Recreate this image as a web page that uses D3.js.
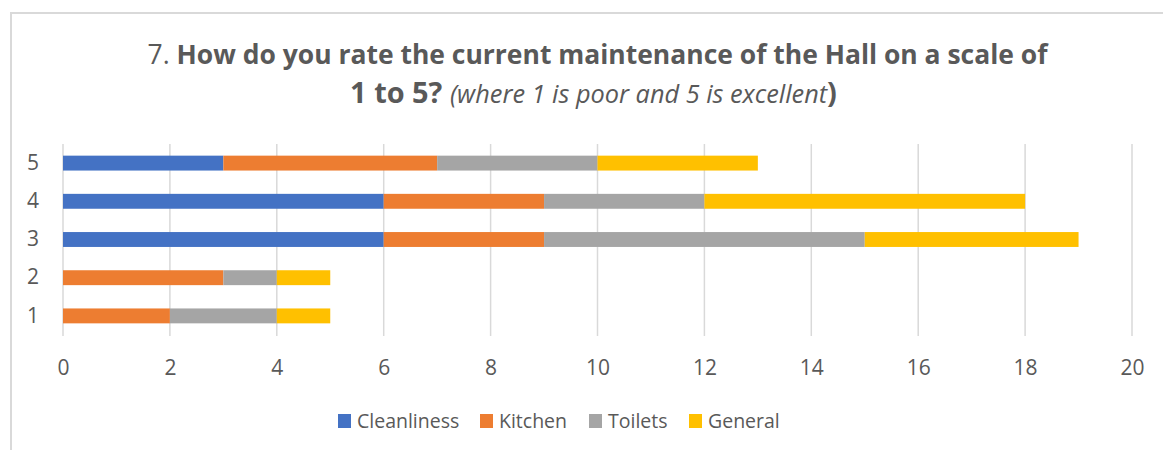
<!DOCTYPE html>
<html>
<head>
<meta charset="utf-8">
<script src="https://cdn.jsdelivr.net/npm/d3@7"></script>
<style>
  html, body { margin: 0; padding: 0; background: #fff; }
  svg { display: block; }
  text { font-family: "Open Sans", "Noto Sans", sans-serif; fill: #595959; }
</style>
</head>
<body>
<svg id="chart" width="1163" height="450"></svg>
<script>
const categories = ["1", "2", "3", "4", "5"];
const seriesNames = ["Cleanliness", "Kitchen", "Toilets", "General"];
const cleanliness = [0, 0, 6, 6, 3];
const kitchen     = [2, 3, 3, 3, 4];
const toilets     = [2, 1, 6, 3, 3];
const general     = [1, 1, 4, 6, 3];
const xTicks = [0, 2, 4, 6, 8, 10, 12, 14, 16, 18, 20];
const colors = ["#4472C4", "#ED7D31", "#A5A5A5", "#FFC000"];

const svg = d3.select("#chart");

// chart border
svg.append("path")
  .attr("d", "M11,460 L11,13 L1175,13")
  .attr("fill", "none").attr("stroke", "#D9D9D9").attr("stroke-width", 2);

const x = d3.scaleLinear().domain([0, 20]).range([63, 1132]);
const y = d3.scaleBand().domain(categories.slice().reverse()).range([144, 335]).paddingInner(0.61).paddingOuter(0.305);

// gridlines
svg.append("g").selectAll("line").data(xTicks).join("line")
  .attr("x1", d => x(d)).attr("x2", d => x(d))
  .attr("y1", 144).attr("y2", 336)
  .attr("stroke", "#D9D9D9").attr("stroke-width", 1.5);

// stacked data
const rows = categories.map((c, i) => ({
  cat: c, Cleanliness: cleanliness[i], Kitchen: kitchen[i], Toilets: toilets[i], General: general[i]
}));
const stack = d3.stack().keys(seriesNames)(rows);

svg.append("g").selectAll("g").data(stack).join("g")
  .attr("fill", (d, i) => colors[i])
  .selectAll("rect").data(d => d).join("rect")
  .attr("x", d => x(d[0]))
  .attr("width", d => x(d[1]) - x(d[0]))
  .attr("y", d => y(d.data.cat))
  .attr("height", y.bandwidth());

// x axis
const xAxis = svg.append("g").attr("transform", "translate(0,336)")
  .call(d3.axisBottom(x).tickValues(xTicks).tickSize(0).tickPadding(24));
xAxis.select(".domain").remove();
xAxis.selectAll("text").style("font-size", "21px").attr("fill", "#595959")
  .style("font-family", '"Open Sans", sans-serif');

// y axis
const yAxis = svg.append("g").attr("transform", "translate(63,0)")
  .call(d3.axisLeft(y).tickSize(0).tickPadding(24));
yAxis.select(".domain").remove();
yAxis.selectAll("text").style("font-size", "21px").attr("fill", "#595959")
  .style("font-family", '"Open Sans", sans-serif');

// title
function fit(textSel, targetWidth) {
  const node = textSel.node();
  const w = node.getComputedTextLength();
  const k = targetWidth / w;
  textSel.selectAll("tspan").each(function() {
    const s = parseFloat(this.style.fontSize);
    this.style.fontSize = (s * k) + "px";
  });
}
const t1 = svg.append("text").attr("x", 597.5).attr("y", 64).attr("text-anchor", "middle");
t1.append("tspan").style("font-size", "24px").text("7. ");
t1.append("tspan").style("font-size", "24px").attr("font-weight", "bold").text("How do you rate the current maintenance of the Hall on a scale of");
fit(t1, 900);

const t2 = svg.append("text").attr("x", 593.5).attr("y", 103).attr("text-anchor", "middle");
t2.append("tspan").style("font-size", "24px").attr("font-weight", "bold").text("1 to 5? ");
t2.append("tspan").style("font-size", "21px").attr("font-style", "italic").text("(where 1 is poor and 5 is excellent");
t2.append("tspan").style("font-size", "24px").attr("font-weight", "bold").text(")");
fit(t2, 487);

// legend
const legendX = [338, 480, 589, 689];
const lg = svg.append("g").selectAll("g").data(seriesNames).join("g")
  .attr("transform", (d, i) => `translate(${legendX[i]},0)`);
lg.append("rect").attr("x", 0).attr("y", 414).attr("width", 13).attr("height", 14)
  .attr("fill", (d, i) => colors[i]);
lg.append("text").attr("x", 19).attr("y", 428).style("font-size", "19.5px").text(d => d);
</script>
</body>
</html>
